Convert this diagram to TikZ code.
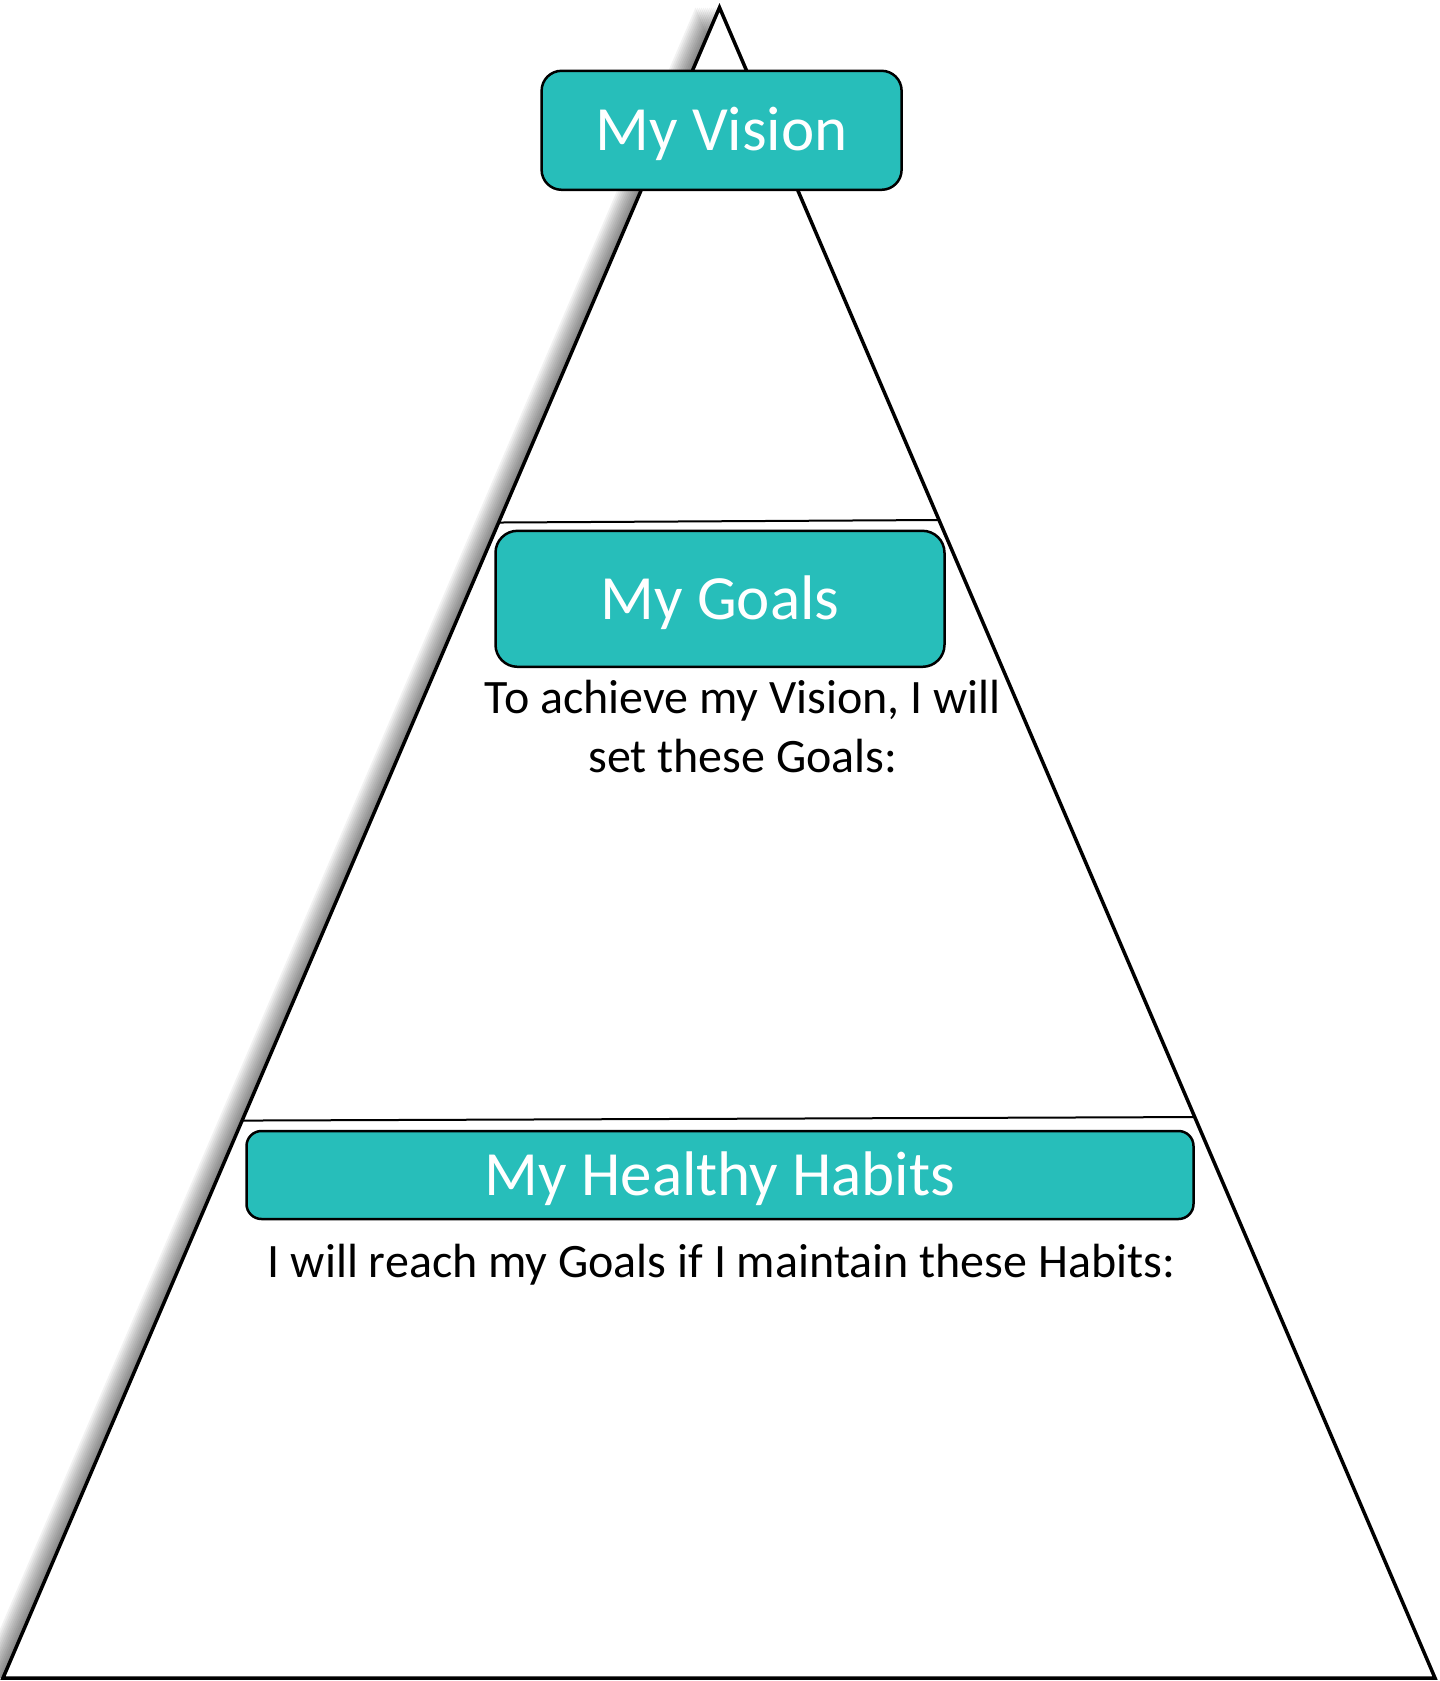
\documentclass[tikz,border=0pt]{standalone}
\usepackage{fontspec}
\setmainfont{Carlito}
\usetikzlibrary{calc}
\definecolor{boxteal}{RGB}{39,190,186}
\begin{document}
\begin{tikzpicture}[x=1pt,y=-1pt,
  box/.style={draw=black, line width=2.5pt, fill=boxteal, text=white,
    font=\fontsize{63}{75}\selectfont, text height=40.6pt, text depth=0pt,
    inner sep=0pt},
  note/.style={text=black, font=\fontsize{48}{58.5}\selectfont, align=center, inner sep=0pt},
  divider/.style={draw=black, line width=2pt},
  outline/.style={draw=black, line width=3.5pt, line join=miter}]
\useasboundingbox (0,0) rectangle (1440,1681);

% corners of the pyramid
\coordinate (apex) at (719.5,7.5);
\coordinate (bl) at (3,1678);
\coordinate (br) at (1435,1678);

% soft shadow to the left of the pyramid
\foreach \k in {1,...,12}{
  \fill[black, opacity=0.05] ([xshift=-\k*2pt]apex) -- ([xshift=-\k*2pt]bl)
    -- ([xshift=-\k*2pt]br) -- cycle;
}
\fill[white] (apex) -- (bl) -- (br) -- cycle;

% dividing lines between the levels
\coordinate (d1l) at ($(apex)!0.3083!(bl)$);
\coordinate (d1r) at ($(apex)!0.3068!(br)$);
\coordinate (d2l) at ($(apex)!0.6663!(bl)$);
\coordinate (d2r) at ($(apex)!0.6642!(br)$);
\draw[divider] (d1l) -- (d1r);
\draw[divider] (d2l) -- (d2r);

\draw[outline] (apex) -- (bl) -- (br) -- cycle;

% level titles
\node[box, rounded corners=20pt, minimum width=360pt, minimum height=119pt]
  (vision) at (721.6,130.3) {My Vision};
\node[box, rounded corners=22pt, minimum width=449pt, minimum height=136pt]
  (goals) at (720,598.8) {My Goals};
\node[box, rounded corners=15pt, minimum width=947pt, minimum height=88pt]
  (habits) at (720,1175) {My Healthy Habits};

% prompts under the titles
\node[note, anchor=base] (goalsnote) at (743,772)
  {To achieve my Vision, I will\\set these Goals:};
\node[note, anchor=base] (habitsnote) at (721.6,1277)
  {I will reach my Goals if I maintain these Habits:};
\end{tikzpicture}
\end{document}
